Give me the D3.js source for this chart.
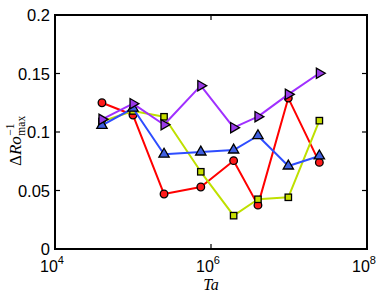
<!DOCTYPE html>
<html>
<head>
<meta charset="utf-8">
<script src="https://cdn.jsdelivr.net/npm/d3@7"></script>
<style>
  body { margin: 0; background: #fff; }
  svg { display: block; }
</style>
</head>
<body>
<div id="chart"></div>
<script>
// Ta values (x) shared by all series
var ta = [4e4, 1e5, 2.5e5, 7.4e5, 1.95e6, 4e6, 9.8e6, 2.45e7];

var redVals    = [0.125, 0.1145, 0.047, 0.053, 0.0755, 0.0375, 0.129, 0.074];
var greenVals  = [0.109, 0.118, 0.113, 0.066, 0.0285, 0.0425, 0.0442, 0.1097];
var blueVals   = [0.1057, 0.1203, 0.081, 0.0829, 0.0846, 0.0968, 0.0709, 0.0795];
var purpleVals = [0.1108, 0.1242, 0.1062, 0.1396, 0.1037, 0.1131, 0.1322, 0.1502];

var yTicks = [0, 0.05, 0.1, 0.15, 0.2];
var yTickLabels = ["0", "0.05", "0.1", "0.15", "0.2"];
var xTicks = [1e4, 1e6, 1e8];
var xTickExp = ["4", "6", "8"];

var series = [
  {vals: redVals,    line: "#ff0000", fill: "#ff1a1a", shape: "circle"},
  {vals: greenVals,  line: "#bfe000", fill: "#c8e000", shape: "square"},
  {vals: blueVals,   line: "#2e4dff", fill: "#3f5fe0", shape: "triup"},
  {vals: purpleVals, line: "#a030ff", fill: "#9a3ae8", shape: "triright"}
];

var W = 390, H = 294;
var margin = {top: 15, right: 23, bottom: 45, left: 55},
    width = W - margin.left - margin.right,
    height = H - margin.top - margin.bottom;

var svg = d3.select("#chart").append("svg")
    .attr("width", W).attr("height", H)
  .append("g")
    .attr("transform", "translate(" + margin.left + "," + margin.top + ")");

var x = d3.scaleLog().domain([1e4, 1e8]).range([0, width]);
var y = d3.scaleLinear().domain([0, 0.2]).range([height, 0]);

var font = "'Liberation Sans', Arial, sans-serif";
var serif = "'Liberation Serif', 'DejaVu Serif', serif";

// ticks (inward, on all sides)
var tl = 5;
yTicks.forEach(function(t) {
  svg.append("line").attr("x1", 0).attr("x2", tl).attr("y1", y(t)).attr("y2", y(t))
    .attr("stroke", "#000").attr("stroke-width", 1.2);
  svg.append("line").attr("x1", width).attr("x2", width - tl).attr("y1", y(t)).attr("y2", y(t))
    .attr("stroke", "#000").attr("stroke-width", 1.2);
});
xTicks.forEach(function(t) {
  svg.append("line").attr("x1", x(t)).attr("x2", x(t)).attr("y1", height).attr("y2", height - tl)
    .attr("stroke", "#000").attr("stroke-width", 1.2);
  svg.append("line").attr("x1", x(t)).attr("x2", x(t)).attr("y1", 0).attr("y2", tl)
    .attr("stroke", "#000").attr("stroke-width", 1.2);
});

// y tick labels
svg.selectAll(".ylab").data(yTicks).enter().append("text")
  .attr("x", -5).attr("y", function(d) { return y(d) + 6; })
  .attr("text-anchor", "end")
  .style("font-family", font).style("font-size", "16.5px")
  .text(function(d, i) { return yTickLabels[i]; });

// x tick labels 10^n
xTicks.forEach(function(t, i) {
  var tx = svg.append("text")
    .attr("x", x(t) - 3).attr("y", height + 23)
    .attr("text-anchor", "middle")
    .style("font-family", font).style("font-size", "16px");
  tx.append("tspan").text("10");
  tx.append("tspan").attr("dy", -8).style("font-size", "11px").text(xTickExp[i]);
});

// axis titles
svg.append("text")
  .attr("x", x(1e6)).attr("y", height + 41)
  .attr("text-anchor", "middle")
  .style("font-family", serif)
  .style("font-style", "italic").style("font-size", "16px")
  .text("Ta");

var yl = d3.select("svg").append("g")
  .attr("transform", "translate(21," + (margin.top + height / 2 + 34) + ") rotate(-90)");
var main = yl.append("text").attr("x", 0).attr("y", 0)
  .style("font-family", serif).style("font-size", "17px");
main.append("tspan").text("Δ");
main.append("tspan").style("font-style", "italic").text("Ro");
var mw = main.node().getComputedTextLength();
yl.append("text").attr("x", mw + 0.5).attr("y", -7)
  .style("font-family", serif).style("font-size", "11.5px").text("−1");
yl.append("text").attr("x", mw + 0.5).attr("y", 4)
  .style("font-family", serif).style("font-size", "11.5px").text("max");

// series
var line = d3.line()
  .x(function(d, i) { return x(ta[i]); })
  .y(function(d) { return y(d); });

var triUp = d3.symbol().type(d3.symbolTriangle).size(46);

series.forEach(function(s) {
  svg.append("path").datum(s.vals)
    .attr("fill", "none")
    .attr("stroke", s.line)
    .attr("stroke-width", 2)
    .attr("stroke-linejoin", "round")
    .attr("d", line);

  var g = svg.append("g");
  s.vals.forEach(function(v, i) {
    var px = x(ta[i]), py = y(v);
    var m;
    if (s.shape == "circle") {
      m = g.append("circle").attr("cx", px).attr("cy", py).attr("r", 3.8);
    } else if (s.shape == "square") {
      m = g.append("rect").attr("x", px - 3.2).attr("y", py - 3.2).attr("width", 6.4).attr("height", 6.4);
    } else if (s.shape == "triup") {
      m = g.append("path").attr("d", triUp()).attr("transform", "translate(" + px + "," + py + ")");
    } else {
      m = g.append("path").attr("d", triUp()).attr("transform", "translate(" + px + "," + py + ") rotate(90)");
    }
    m.attr("fill", s.fill).attr("stroke", "#000").attr("stroke-width", 1.3);
  });
});

// frame
svg.append("rect").attr("x", 0).attr("y", 0).attr("width", width).attr("height", height)
  .attr("fill", "none").attr("stroke", "#000").attr("stroke-width", 2);
</script>
</body>
</html>
